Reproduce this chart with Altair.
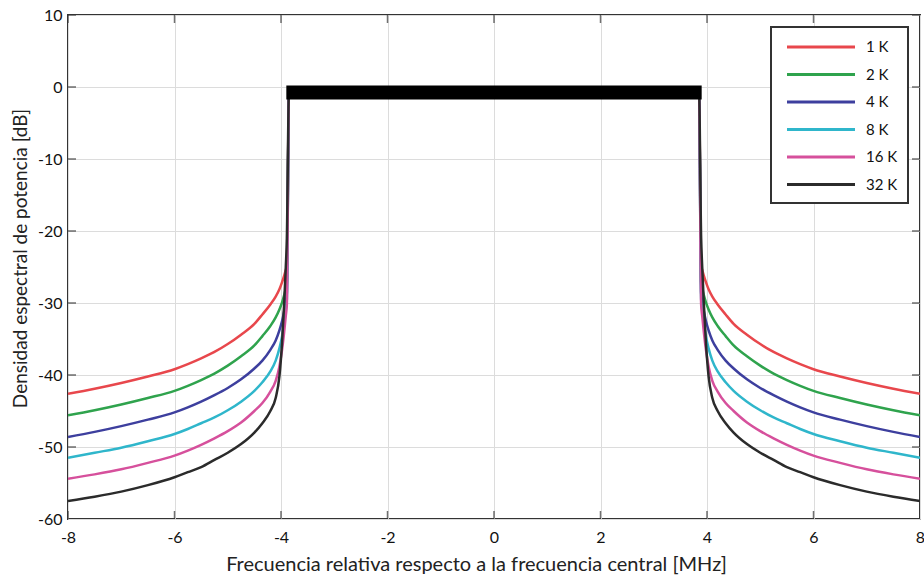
import altair as alt
import pandas as pd

# ---- data (left half; the spectrum is symmetric) ----
freq_left = [-8.0, -7.5, -7.0, -6.5, -6.0, -5.75, -5.5, -5.25, -5.0, -4.75, -4.5, -4.35,
             -4.2, -4.1, -4.03, -3.98, -3.94, -3.91, -3.89]
db_1k  = [-42.6, -41.9, -41.1, -40.2, -39.2, -38.5, -37.7, -36.8, -35.7, -34.4, -32.9, -31.6,
          -30.2, -29.1, -28.1, -27.1, -26.2, -25.4, -24.8]
db_2k  = [-45.6, -44.9, -44.1, -43.2, -42.2, -41.5, -40.7, -39.8, -38.7, -37.4, -35.9, -34.6,
          -33.2, -32.0, -30.9, -29.9, -28.9, -28.0, -27.2]
db_4k  = [-48.6, -47.9, -47.1, -46.2, -45.2, -44.5, -43.7, -42.8, -41.8, -40.6, -39.1, -38.0,
          -36.5, -35.2, -33.8, -32.5, -31.1, -29.8, -28.6]
db_8k  = [-51.5, -50.8, -50.1, -49.2, -48.2, -47.5, -46.7, -45.9, -44.9, -43.7, -42.2, -41.0,
          -39.5, -38.0, -36.3, -34.6, -32.6, -30.8, -29.5]
db_16k = [-54.4, -53.8, -53.1, -52.2, -51.2, -50.5, -49.7, -48.8, -47.8, -46.6, -45.0, -43.9,
          -42.3, -40.8, -38.8, -36.5, -34.0, -31.8, -30.2]
db_32k = [-57.5, -56.9, -56.2, -55.3, -54.2, -53.5, -52.8, -51.8, -50.8, -49.6, -48.0, -46.7,
          -45.0, -43.2, -40.2, -35.5, -30.0, -25.0, -21.0]

edge_freq = 3.85          # band edge (MHz)
inband_db = -0.7          # in-band level (hidden under the ripple band)
band_freq = [-3.9, 3.9]   # 32K in-band ripple band
band_db = [0.2, -1.75]

series_names = ["1 K", "2 K", "4 K", "8 K", "16 K", "32 K"]
series_values = [db_1k, db_2k, db_4k, db_8k, db_16k, db_32k]
series_colors = ["#e8474c", "#2fa34d", "#3d3f9e", "#2fb6cb", "#d6509c", "#2b2b2b"]

x_ticks = [-8, -6, -4, -2, 0, 2, 4, 6, 8]
y_ticks = [-60, -50, -40, -30, -20, -10, 0, 10]

# ---- build tables ----
rows = []
for name, vals in zip(series_names, series_values):
    for f, v in zip(freq_left, vals):
        rows.append({"f": f, "db": v, "serie": name})
    rows.append({"f": -edge_freq, "db": inband_db, "serie": name})
    rows.append({"f": edge_freq, "db": inband_db, "serie": name})
    for f, v in reversed(list(zip(freq_left, vals))):
        rows.append({"f": -f, "db": v, "serie": name})
lines_df = pd.DataFrame(rows)

band_df = pd.DataFrame({"f": [band_freq[0]], "f2": [band_freq[1]],
                        "db": [band_db[0]], "db2": [band_db[1]]})

ytick_df = pd.DataFrame([{"f": fx, "db": v} for fx in (x_ticks[0], x_ticks[-1]) for v in y_ticks])
xtick_df = pd.DataFrame([{"f": v, "db": dy} for dy in (y_ticks[0], y_ticks[-1]) for v in x_ticks])

FONT = "Lato"
xscale = alt.Scale(domain=[-8, 8], nice=False, zero=False)
yscale = alt.Scale(domain=[-60, 10], nice=False, zero=False)

X = alt.X("f:Q", scale=xscale,
          axis=alt.Axis(values=x_ticks, title="Frecuencia relativa respecto a la frecuencia central [MHz]",
                        labelExpr="'' + datum.value", labelFlush=False, labelPadding=10,
                        titlePadding=9, titleFontSize=20, titleX=408))
Y = alt.Y("db:Q", scale=yscale,
          axis=alt.Axis(values=y_ticks, title="Densidad espectral de potencia [dB]",
                        labelExpr="'' + datum.value", labelPadding=6, titlePadding=7,
                        titleFontSize=19, titleY=243))

lines = alt.Chart(lines_df).mark_line(strokeWidth=2.5, clip=True, interpolate="monotone").encode(
    x=X, y=Y,
    color=alt.Color("serie:N", sort=series_names,
                    scale=alt.Scale(domain=series_names, range=series_colors),
                    legend=alt.Legend(title=None, orient="top-right", offset=12,
                                      symbolType="M-4,0H4", symbolSize=289, symbolStrokeWidth=3,
                                      symbolOffset=30, labelOffset=35, labelFontSize=15,
                                      labelFont=FONT, labelColor="#111", rowPadding=9.5,
                                      padding=10, strokeColor="#333", fillColor="white")),
    order=alt.Order("f:Q"),
)

band = alt.Chart(band_df).mark_rect(color="#000000").encode(
    x=alt.X("f:Q", scale=xscale), x2="f2:Q",
    y=alt.Y("db:Q", scale=yscale), y2="db2:Q",
)

yticks = alt.Chart(ytick_df).mark_tick(orient="horizontal", size=16, thickness=1.5,
                                       color="#333", clip=True).encode(
    x=alt.X("f:Q", scale=xscale), y=alt.Y("db:Q", scale=yscale))
xticks = alt.Chart(xtick_df).mark_tick(orient="vertical", size=16, thickness=1.5,
                                       color="#333", clip=True).encode(
    x=alt.X("f:Q", scale=xscale), y=alt.Y("db:Q", scale=yscale))

chart = alt.layer(lines, band, yticks, xticks).properties(
    width=852, height=504,
    autosize=alt.AutoSizeParams(type="none"),
    padding={"left": 68, "top": 15, "right": 4, "bottom": 65},
).configure_view(
    stroke="#333", strokeWidth=2
).configure_axis(
    grid=True, gridColor="#dcdcdc", gridWidth=1, domain=False, ticks=False,
    labelFont=FONT, labelFontSize=16, labelColor="#111",
    titleFont=FONT, titleFontWeight="normal", titleColor="#222",
).configure_legend(
    strokeWidth=2
)

chart.save("out.html", embed_options={"renderer": "svg", "actions": False})
